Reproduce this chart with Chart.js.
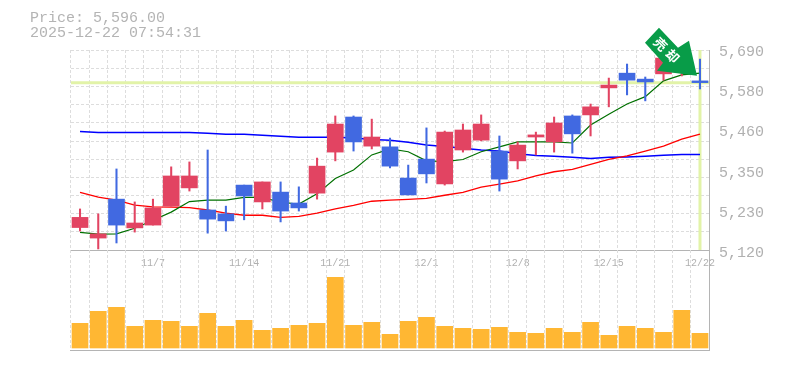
<!DOCTYPE html>
<html>
<head>
<meta charset="utf-8">
<title>Price chart</title>
<script src="https://cdn.jsdelivr.net/npm/chart.js@4"></script>
<style>
  html, body { margin: 0; padding: 0; background: #fff; overflow: hidden; }
  #wrap { position: relative; width: 785px; height: 370px; }
  canvas { position: absolute; left: 0; top: 0; }
  .head { position: absolute; left: 30px; font: 15px/15px "Liberation Mono", monospace; color: #b4b4b4; white-space: pre; }
</style>
</head>
<body>
<div id="wrap">
  <canvas id="priceChart" width="785" height="370"></canvas>
  <canvas id="volumeChart" width="785" height="370"></canvas>
  <div class="head" style="top:11px">Price: 5,596.00</div>
  <div class="head" style="top:26px">2025-12-22 07:54:31</div>
</div>
<script>
const categories = ['10/31','11/4','11/5','11/6','11/7','11/10','11/11','11/12','11/13','11/14','11/17','11/18','11/19','11/20','11/21','11/25','11/26','11/27','11/28','12/1','12/2','12/3','12/4','12/5','12/8','12/9','12/10','12/11','12/12','12/15','12/16','12/17','12/18','12/19','12/22'];
const dateTicks = ['11/7','11/14','11/21','12/1','12/8','12/15','12/22'];
const priceTicks = [5690,5576,5462,5348,5234,5120];
const gridValues = [5688,5637,5586,5535,5483,5429,5377,5326,5274,5223,5172];

const opens  = [5183,5153,5264,5182,5190,5244,5296,5233,5222,5304,5256,5284,5253,5281,5398,5498,5415,5413,5324,5378,5307,5404,5432,5401,5373,5441,5427,5501,5504,5581,5623,5606,5621,5626,5601];
const closes = [5212,5165,5190,5196,5239,5330,5330,5207,5202,5273,5313,5230,5239,5358,5478,5427,5441,5358,5276,5336,5455,5461,5478,5321,5418,5447,5481,5450,5527,5589,5603,5598,5666,5660,5596];
const highs  = [5236,5222,5350,5256,5264,5356,5370,5404,5244,5304,5313,5313,5299,5381,5501,5501,5492,5438,5361,5467,5458,5478,5504,5444,5427,5455,5498,5504,5535,5609,5649,5612,5680,5675,5663];
const lows   = [5173,5122,5139,5170,5190,5244,5287,5167,5173,5205,5236,5199,5230,5264,5373,5401,5407,5353,5276,5310,5304,5398,5430,5287,5350,5390,5398,5395,5444,5527,5561,5544,5603,5615,5578];

const maShort = [5169,5164,5165,5181,5204,5227,5257,5261,5261,5269,5269,5255,5250,5279,5323,5347,5390,5407,5399,5373,5371,5377,5399,5413,5427,5427,5427,5424,5475,5506,5535,5556,5601,5618,5623];
const maMid   = [5283,5270,5261,5247,5242,5241,5240,5233,5224,5218,5218,5212,5215,5224,5236,5246,5258,5261,5263,5266,5275,5283,5298,5307,5316,5330,5342,5349,5363,5377,5387,5401,5415,5435,5449];
const maLong  = [5457,5454,5454,5454,5454,5454,5454,5452,5449,5449,5446,5443,5440,5440,5440,5438,5434,5432,5426,5418,5414,5409,5404,5401,5393,5388,5386,5383,5380,5383,5384,5386,5389,5391,5391];

const volumes = [24.7,36.7,40.7,21.7,27.7,26.7,21.7,34.7,21.7,27.7,17.7,19.7,22.7,24.7,70.7,22.7,25.7,13.7,26.7,30.7,21.7,19.7,18.7,20.7,15.7,14.7,19.7,15.7,25.7,12.7,21.7,19.7,15.7,37.7,14.7];

const lastPrice = 5596;
const priceMin = 5119, priceMax = 5689;

const GRID = '#dddddd', AXIS = '#b4b4b4', TEXT = '#b0b0b0', LIME = '#e2f3a8';
const UP = '#e24462', DOWN = '#4169e1';
const LEFT = 70.9, RIGHT_W = 75.9;
const MONO = '"Liberation Mono", monospace';

const candleColors = opens.map((o, i) => closes[i] >= o ? UP : DOWN);
const lastIndex = categories.length - 1;

// flecha verde con el texto, anclada a la ultima vela
const arrowPlugin = {
  id: 'arrowMark',
  afterDraw(chart) {
    const ctx = chart.ctx;
    const tipX = chart.scales.x.getPixelForValue(lastIndex) - 3;
    const tipY = chart.scales.y.getPixelForValue(lastPrice) - 7;
    const shape = [[-52,-33],[-38,-48],[-19,-28],[-8,-35],[0,0],[-40,-5],[-34,-13]];
    ctx.save();
    ctx.fillStyle = '#089c48';
    ctx.beginPath();
    shape.forEach((p, i) => i ? ctx.lineTo(tipX + p[0], tipY + p[1]) : ctx.moveTo(tipX + p[0], tipY + p[1]));
    ctx.closePath();
    ctx.fill();
    ctx.translate(tipX - 30.5, tipY - 25.5);
    ctx.rotate(Math.PI / 4);
    ctx.fillStyle = '#fff';
    ctx.font = 'bold 13px "Noto Sans CJK JP"';
    ctx.textAlign = 'center';
    ctx.textBaseline = 'middle';
    ctx.fillText('売', -8.5, 0);
    ctx.fillText('却', 8.5, 0);
    ctx.restore();
  }
};

new Chart(document.getElementById('priceChart'), {
  data: {
    labels: categories,
    datasets: [
      { type: 'line', xAxisID: 'x2', data: [{x: -0.5, y: lastPrice}, {x: lastIndex + 0.5, y: lastPrice}], borderColor: LIME, borderWidth: 3, pointRadius: 0, order: 9 },
      { type: 'line', xAxisID: 'x2', data: [{x: lastIndex, y: priceMin}, {x: lastIndex, y: priceMax}], borderColor: LIME, borderWidth: 3, pointRadius: 0, order: 9 },
      { type: 'line', data: maLong, borderColor: '#0000ff', borderWidth: 1.5, pointRadius: 0, order: 5 },
      { type: 'line', data: maMid, borderColor: '#ff0000', borderWidth: 1.3, pointRadius: 0, order: 4 },
      { type: 'line', data: maShort, borderColor: '#007000', borderWidth: 1.2, pointRadius: 0, order: 3 },
      { type: 'bar', data: lows.map((l, i) => [l, highs[i]]), backgroundColor: candleColors, barThickness: 1.4, grouped: false, order: 2 },
      { type: 'bar', data: opens.map((o, i) => [o, closes[i]]), backgroundColor: candleColors, barThickness: 16, grouped: false, order: 1 }
    ]
  },
  options: {
    responsive: false,
    animation: false,
    layout: { padding: { left: LEFT, top: 50, right: 0, bottom: 100 } },
    plugins: { legend: { display: false }, tooltip: { enabled: false } },
    scales: {
      x: {
        offset: true,
        grid: { color: GRID, offset: true, drawTicks: false },
        border: { color: AXIS, dash: [3, 2] },
        ticks: {
          autoSkip: false, maxRotation: 0, padding: 7, color: TEXT,
          font: { family: MONO, size: 10 },
          callback(value) { const t = this.getLabelForValue(value); return dateTicks.includes(t) ? t : ''; }
        },
        afterFit(scale) { scale.height = 20; }
      },
      x2: { type: 'linear', display: false, min: -0.5, max: lastIndex + 0.5 },
      y: {
        position: 'left', min: priceMin, max: priceMax,
        grid: { color: GRID, drawTicks: false },
        border: { display: false, dash: [3, 2] },
        ticks: { display: false },
        afterBuildTicks(scale) { scale.ticks = gridValues.map(v => ({ value: v })); },
        afterFit(scale) { scale.width = 0; }
      },
      yLabels: {
        position: 'right', min: 5128.5, max: 5695.7,
        grid: { drawOnChartArea: false, drawTicks: false },
        border: { color: AXIS },
        ticks: {
          padding: 10, color: TEXT, font: { family: MONO, size: 15 },
          callback(v) { return (Math.round(v / 10) * 10).toLocaleString('en-US'); }
        },
        afterBuildTicks(scale) { scale.ticks = priceTicks.map(v => ({ value: v })); },
        afterFit(scale) { scale.width = RIGHT_W; }
      }
    }
  },
  plugins: [arrowPlugin]
});

new Chart(document.getElementById('volumeChart'), {
  data: {
    labels: categories,
    datasets: [
      { type: 'bar', data: volumes, backgroundColor: '#ffb733', barThickness: 16 }
    ]
  },
  options: {
    responsive: false,
    animation: false,
    layout: { padding: { left: LEFT, top: 250, right: 0, bottom: 20 } },
    plugins: { legend: { display: false }, tooltip: { enabled: false } },
    scales: {
      x: {
        offset: true,
        grid: { color: GRID, offset: true, drawTicks: false },
        border: { color: AXIS, dash: [3, 2] },
        ticks: { display: false },
        afterFit(scale) { scale.height = 0; }
      },
      y: {
        position: 'right', min: -2, max: 98,
        grid: { display: false },
        border: { color: AXIS },
        ticks: { display: false },
        afterFit(scale) { scale.width = RIGHT_W; }
      }
    }
  }
});
</script>
</body>
</html>
